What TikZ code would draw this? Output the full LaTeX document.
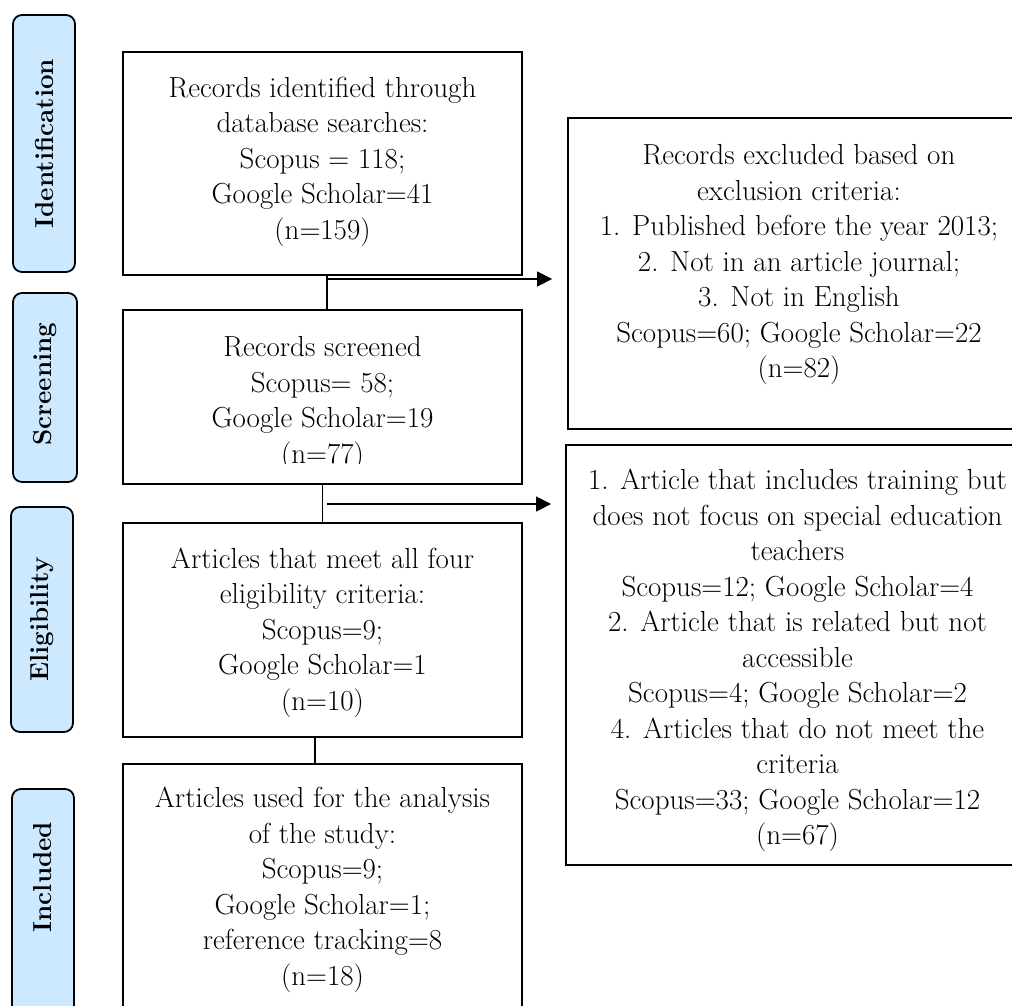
\documentclass[tikz,border=0pt]{standalone}
\usepackage{fontspec}
\usetikzlibrary{arrows.meta}
\definecolor{stagefill}{RGB}{204,233,255}
\begin{document}
\begin{tikzpicture}[x=1pt,y=-1pt,
  stagebox/.style={draw, line width=1.8pt, rounded corners=9pt, fill=stagefill, inner sep=0pt},
  stagetxt/.style={inner sep=0pt, font=\fontsize{26}{32}\selectfont\bfseries, rotate=90},
  flowbox/.style={draw, line width=1.8pt, fill=white, inner sep=0pt},
  txt/.style={align=center, inner sep=0pt, font=\fontsize{29}{35.5}\selectfont},
  conn/.style={line width=1.2pt},
  arr/.style={conn, -{Triangle[length=15pt,width=15pt]}}]
\useasboundingbox (0,0) rectangle (1012,1005);
\clip (0,0) rectangle (1012,1005);
\fill[white] (0,0) rectangle (1012,1005);

% stage labels
\node[stagebox, minimum width=62pt, minimum height=257pt] (s1) at (44,143.5) {};
\node[stagebox, minimum width=64pt, minimum height=189pt] (s2) at (45,387.5) {};
\node[stagebox, minimum width=62pt, minimum height=225pt] (s3) at (42,619.5) {};
\node[stagebox, minimum width=62pt, minimum height=241pt] (s4) at (43,909.5) {};
\node[stagetxt] (l1) at (s1.center) {Identification};
\node[stagetxt] (l2) at (45,384) {Screening};
\node[stagetxt] (l3) at (s3.center) {Eligibility};
\node[stagetxt] (l4) at (43,877) {Included};

% main boxes
\node[flowbox, minimum width=399pt, minimum height=223pt] (b1) at (322.5,163.5) {};
\node[flowbox, minimum width=399pt, minimum height=174pt] (b2) at (322.5,397) {};
\node[flowbox, minimum width=399pt, minimum height=214pt] (b3) at (322.5,630) {};
\node[flowbox, minimum width=399pt, minimum height=256pt] (b4) at (322.5,892) {};
\node[flowbox, minimum width=461pt, minimum height=311pt] (e1) at (798.5,273.5) {};
\node[flowbox, minimum width=463pt, minimum height=420pt] (e2) at (797.5,655) {};

% texts
\node[txt] (t1) at (322.5,161.5) {Records identified through\\database searches:\\Scopus = 118;\\Google Scholar=41\\(n=159)};
\begin{scope}
\clip (123,310) rectangle (522,463);
\node[txt] (t2) at (322.5,403.5) {Records screened\\Scopus= 58;\\Google Scholar=19\\(n=77)};
\end{scope}
\node[txt] (t3) at (322.5,632.5) {Articles that meet all four\\eligibility criteria:\\Scopus=9;\\Google Scholar=1\\(n=10)};
\node[txt] (t4) at (322.5,890) {Articles used for the analysis\\of the study:\\Scopus=9;\\Google Scholar=1;\\reference tracking=8\\(n=18)};
\node[txt] (te1) at (799,265) {Records excluded based on\\exclusion criteria:\\1. Published before the year 2013;\\2. Not in an article journal;\\3. Not in English\\Scopus=60; Google Scholar=22\\(n=82)};
\node[txt] (te2) at (797.5,660.5) {1. Article that includes training but\\does not focus on special education\\teachers\\Scopus=12; Google Scholar=4\\2. Article that is related but not\\accessible\\Scopus=4; Google Scholar=2\\4. Articles that do not meet the\\criteria\\Scopus=33; Google Scholar=12\\(n=67)};

% connectors
\coordinate (j1) at (327,279);
\coordinate (j2) at (327,504);
\coordinate (v3) at (315,750);
\draw[conn] (b1.south -| j1) -- (b2.north -| j1);
\draw[arr, shorten >=15pt] (j1) -- (j1 -| e1.west);
\draw[conn] (b2.south) -- (b3.north);
\draw[arr, shorten >=14pt] (j2) -- (j2 -| e2.west);
\draw[conn] (b3.south -| v3) -- (b4.north -| v3);
\end{tikzpicture}
\end{document}
